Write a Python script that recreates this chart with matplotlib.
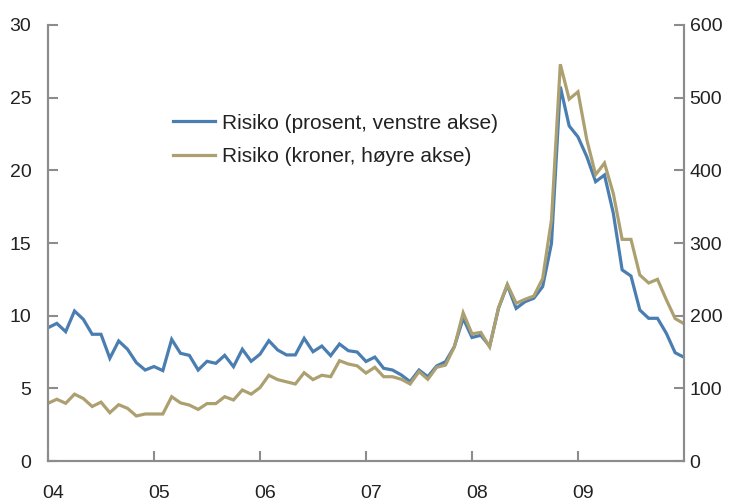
import matplotlib
matplotlib.use("Agg")
import matplotlib.pyplot as plt
import matplotlib.transforms as mtransforms
import numpy as np

plt.rcParams['font.family'] = ['Liberation Sans', 'DejaVu Sans']

# monthly observations, Jan 2004 - Jan 2010
risk_pct = [9.17, 9.47, 8.90, 10.32, 9.75, 8.72, 8.72, 7.07, 8.26, 7.69, 6.77, 6.26,
            6.50, 6.22, 8.37, 7.41, 7.27, 6.26, 6.86, 6.72, 7.27, 6.49, 7.69, 6.86,
            7.35, 8.28, 7.64, 7.30, 7.30, 8.44, 7.52, 7.91, 7.25, 8.05, 7.59, 7.50,
            6.85, 7.15, 6.38, 6.26, 5.92, 5.46, 6.26, 5.80, 6.54, 6.83, 7.87, 9.82,
            8.50, 8.65, 7.90, 10.50, 12.10, 10.50, 10.96, 11.20, 12.00, 14.98, 25.76, 23.06,
            22.30, 20.94, 19.22, 19.68, 17.05, 13.15, 12.73, 10.39, 9.82, 9.82, 8.79, 7.45,
            7.14]
risk_nok = [79.4, 85, 79.4, 92, 86, 75, 81, 66.5, 77.5, 72.5, 62, 64.7,
            64.7, 64.7, 88.5, 80, 77, 71, 79, 79, 88.5, 84, 97.7, 92,
            101, 118, 112, 109, 106, 121.5, 112, 118, 116, 138, 133.5, 131,
            121, 129, 116, 116, 112.5, 106, 123, 112.5, 129, 132, 157, 204,
            175, 177, 157, 211, 243, 217, 222.5, 227, 251, 332, 546, 498,
            508, 442, 394, 410, 368, 305, 305, 256, 245, 250, 222, 196,
            189]
year_labels = ['04', '05', '06', '07', '08', '09']

blue = '#4a7eb1'
olive = '#ada070'
axis_grey = '#8c8c8c'
text_col = '#222222'

fig = plt.figure(figsize=(7.42, 5.04), dpi=100)
ax = fig.add_axes([0.0647, 0.0853, 0.8571, 0.8651])
ax2 = ax.twinx()

months = np.arange(len(risk_pct))
l1, = ax.plot(months, risk_pct, color=blue, lw=2.3, solid_joinstyle='miter',
              label='Risiko (prosent, venstre akse)')
l2, = ax2.plot(months, risk_nok, color=olive, lw=2.3, solid_joinstyle='miter',
               label='Risiko (kroner, høyre akse)')

ax.set_xlim(0, 72)
ax.set_ylim(0, 30)
ax2.set_ylim(0, 600)
ax.set_yticks(np.arange(0, 31, 5))
ax2.set_yticks(np.arange(0, 601, 100))
ax.set_xticks(np.arange(0, 72, 12))
ax.set_xticklabels(year_labels)

for a in (ax, ax2):
    a.spines['top'].set_visible(False)
    for s in ('left', 'right', 'bottom'):
        a.spines[s].set_color(axis_grey)
        a.spines[s].set_linewidth(1.5)
ax.tick_params(axis='y', direction='in', length=7, width=1.5, color=axis_grey,
               labelsize=14, labelcolor=text_col, pad=12)
ax2.tick_params(axis='y', direction='in', length=7, width=1.5, color=axis_grey,
                labelsize=14, labelcolor=text_col, pad=4)
ax.tick_params(axis='x', direction='in', length=7, width=1.5, color=axis_grey,
               labelsize=14, labelcolor=text_col, pad=17)

offset = mtransforms.ScaledTranslation(5 / 100, 0, fig.dpi_scale_trans)
for lab in ax.get_xticklabels():
    lab.set_transform(lab.get_transform() + offset)

leg = ax2.legend(handles=[l1, l2], loc='upper left', bbox_to_anchor=(0.167, 0.84),
                 frameon=False, fontsize=15, handlelength=2.0, handletextpad=0.35,
                 labelspacing=0.7)
for t in leg.get_texts():
    t.set_color(text_col)

fig.savefig('out.png', dpi=100)
